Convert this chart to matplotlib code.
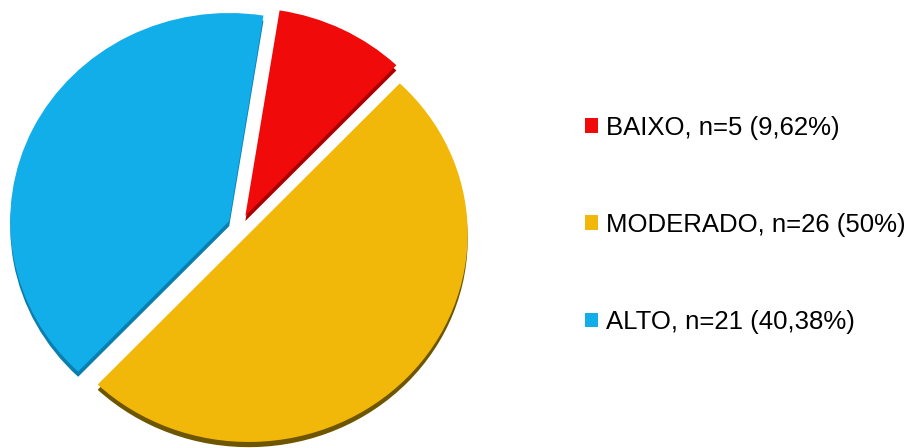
import matplotlib.pyplot as plt

# Risk classes and counts
labels = ["BAIXO", "MODERADO", "ALTO"]
counts = [5, 26, 21]
shares = ["9,62%", "50%", "40,38%"]

face_colors = ["#F00A0A", "#F1B80A", "#12AEE9"]
side_colors = ["#A80000", "#6E5600", "#0A7FAF"]

plt.rcParams['font.family'] = ['Liberation Sans', 'DejaVu Sans']

fig = plt.figure(figsize=(9.23, 4.48), dpi=100)
ax = fig.add_axes([0, 0, 480 / 923, 1])

explode = [0.055] * len(counts)

# darker copy shifted down gives the slices a bit of thickness
ax.pie(counts, explode=explode, colors=side_colors, startangle=81,
       counterclock=False, center=(0, -0.025),
       wedgeprops=dict(linewidth=0))
wedges, _ = ax.pie(counts, explode=explode, colors=face_colors, startangle=81,
                   counterclock=False, wedgeprops=dict(linewidth=0))

ax.set_aspect('auto')
ax.set_xlim(-1.096, 1.096)
ax.set_ylim(-1.067, 1.087)
ax.axis('off')

legend_labels = [f"{lab}, n={n} ({s})" for lab, n, s in zip(labels, counts, shares)]
fig.legend(wedges, legend_labels, loc='center left',
           bbox_to_anchor=(585 / 923, 0.498), frameon=False,
           fontsize=18.5, handlelength=0.5, handleheight=0.5,
           handletextpad=0.3, labelspacing=2.85,
           borderpad=0, borderaxespad=0)

fig.savefig('out.png', dpi=100)
